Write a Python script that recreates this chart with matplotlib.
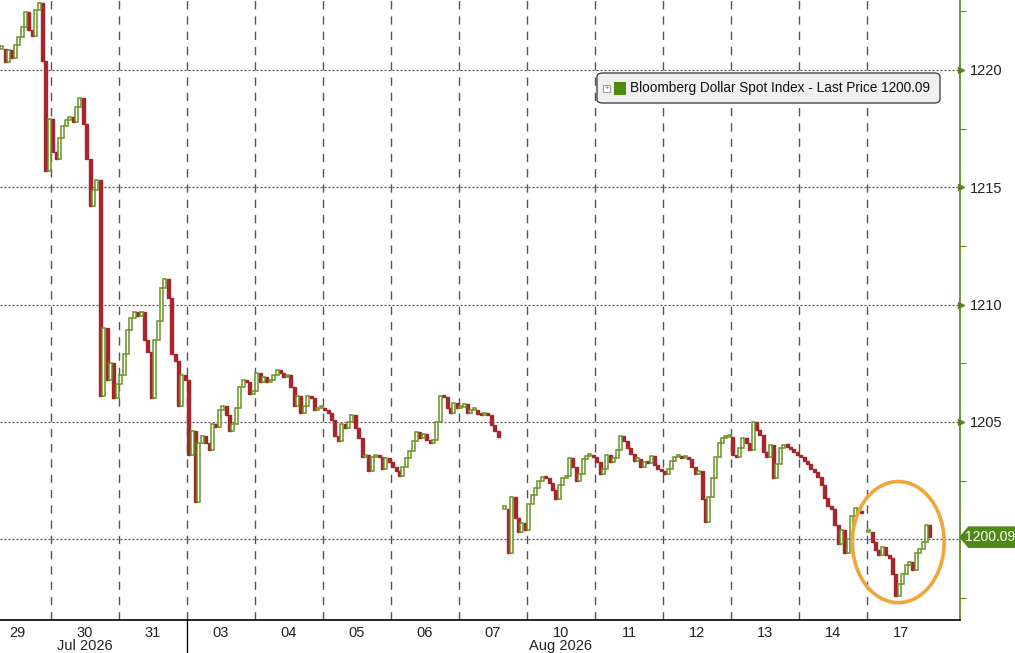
import numpy as np
import matplotlib.pyplot as plt
import matplotlib.transforms as mtransforms
from matplotlib.patches import Ellipse, FancyBboxPatch, Polygon, Rectangle

plt.rcParams['font.family'] = ['Liberation Sans', 'DejaVu Sans']

day_labels = ["29", "30", "31", "03", "04", "05", "06", "07",
              "10", "11", "12", "13", "14", "17"]
month_labels = {1: "Jul 2026", 8: "Aug 2026"}
series_name = "Bloomberg Dollar Spot Index - Last Price"
last_price = 1200.09

# closes, ~20 bars per session (nan = price gap)
jul29 = [1220.9, 1220.35, 1220.85, 1220.5, 1221.05, 1221.4, 1221.85, 1222.45,
         1221.7, 1221.45, 1222.55, 1222.85, 1220.4, 1215.7, 1217.9]
jul30 = [1216.5, 1216.2, 1217.1, 1217.6, 1217.85, 1218.0, 1217.8, 1218.4,
         1218.8, 1217.7, 1216.2, 1214.2, 1214.9, 1215.3, 1206.1, 1209.0,
         1206.8, 1207.5, 1206.0, 1206.6]
jul31 = [1207.0, 1207.9, 1208.9, 1209.45, 1209.7, 1209.5, 1209.7, 1208.5,
         1208.0, 1206.0, 1208.5, 1209.3, 1210.7, 1211.1, 1210.3, 1207.9,
         1207.6, 1205.7, 1207.0, 1206.8]
aug03 = [1203.6, 1204.6, 1201.6, 1204.1, 1204.4, 1204.1, 1203.8, 1204.9,
         1204.8, 1205.5, 1205.7, 1205.3, 1204.6, 1204.9, 1205.6, 1206.5,
         1206.8, 1206.7, 1206.2, 1206.3]
aug04 = [1207.1, 1206.7, 1206.9, 1206.7, 1206.8, 1207.0, 1207.2, 1207.1,
         1206.9, 1207.0, 1206.5, 1205.7, 1206.1, 1205.4, 1205.7, 1206.1,
         1206.0, 1205.5, 1205.6, 1205.6]
aug05 = [1205.5, 1205.4, 1205.1, 1204.4, 1204.2, 1204.9, 1204.75, 1205.0,
         1205.3, 1204.75, 1204.3, 1203.5, 1203.6, 1202.9, 1203.5, 1203.6,
         1203.5, 1203.0, 1203.45, 1203.3]
aug06 = [1203.1, 1202.9, 1202.7, 1203.1, 1203.45, 1203.75, 1204.2, 1204.55,
         1204.3, 1204.5, 1204.25, 1204.1, 1204.25, 1205.0, 1206.1, 1206.05,
         1205.6, 1205.4, 1205.8, 1205.6]
aug07 = [1205.65, 1205.75, 1205.4, 1205.5, 1205.5, 1205.35, 1205.3, 1205.4,
         1205.3, 1204.85, 1204.6, 1204.35, np.nan, 1201.3, 1199.4, 1201.8,
         1200.9, 1200.3, 1200.7, 1200.4]
aug10 = [1201.5, 1201.9, 1202.2, 1202.5, 1202.65, 1202.6, 1202.4, 1202.1,
         1201.7, 1202.3, 1202.6, 1202.7, 1203.45, 1203.1, 1202.5, 1202.8,
         1203.4, 1203.55, 1203.55, 1203.5]
aug11 = [1203.3, 1202.8, 1203.0, 1203.6, 1203.3, 1203.45, 1203.8, 1204.4,
         1204.2, 1203.9, 1203.65, 1203.35, 1203.4, 1203.1, 1203.3, 1203.25,
         1203.55, 1203.15, 1203.0, 1202.9]
aug12 = [1202.8, 1203.0, 1203.35, 1203.5, 1203.5, 1203.45, 1203.45, 1203.4,
         1203.1, 1202.8, 1202.9, 1201.7, 1200.75, 1201.8, 1202.6, 1203.5,
         1204.1, 1204.3, 1204.35, 1204.35]
aug13 = [1203.6, 1203.5, 1203.9, 1204.3, 1204.1, 1203.8, 1205.0, 1204.65,
         1204.45, 1203.7, 1203.5, 1204.0, 1202.6, 1203.2, 1203.9, 1204.0,
         1203.95, 1203.85, 1203.7, 1203.6]
aug14 = [1203.5, 1203.35, 1203.2, 1203.0, 1202.85, 1202.65, 1202.3, 1201.75,
         1201.4, 1201.3, 1200.6, 1199.8, 1200.4, 1199.4, 1200.0, 1201.0,
         1201.35, 1201.2, 1201.1, np.nan]
aug17 = [1200.3, 1199.9, 1199.55, 1199.35, 1199.65, 1199.35, 1199.2, 1198.5,
         1197.6, 1198.1, 1198.5, 1198.9, 1199.05, 1198.7, 1199.4, 1199.6,
         1199.9, 1200.6, 1200.09]
sessions = [jul29, jul30, jul31, aug03, aug04, aug05, aug06, aug07,
            aug10, aug11, aug12, aug13, aug14, aug17]

green = "#6a9224"
red = "#a5262c"
slots = 20

# bar times in trading-day units (first session is cut off on the left)
xs, closes = [], []
for i, vals in enumerate(sessions):
    offset = slots - len(vals) if i == 0 else 0
    for k, v in enumerate(vals):
        xs.append(i + (offset + k + 0.5) / slots)
        closes.append(v)
xs = np.array(xs)
closes = np.array(closes)
opens = np.r_[closes[0], closes[:-1]]
opens = np.where(np.isnan(opens), closes, opens)

fig = plt.figure(figsize=(10.15, 6.53), dpi=100)
ax = fig.add_axes([0, 33 / 653, 960 / 1015, 620 / 653])
ax.set_xlim(0.25, 14.368)
ax.set_ylim(1196.56, 1222.98)

# grid
for d in range(1, 14):
    ax.axvline(d, color="#555555", lw=1.0, dashes=(6, 5), zorder=1)
for lvl in [1200, 1205, 1210, 1215, 1220]:
    ax.axhline(lvl, color="#555555", lw=0.9, dashes=(1.6, 1.6), zorder=1)

# candles
ok = ~np.isnan(closes)
up = ok & (closes >= opens)
dn = ok & (closes < opens)
w = 0.9 / slots
bottom = np.minimum(opens, closes)
height = np.maximum(np.abs(closes - opens), 0.1)
ax.bar(xs[dn], height[dn], w, bottom[dn], color=red, edgecolor=red,
       linewidth=1.0, zorder=3)
ax.bar(xs[up], height[up], w, bottom[up], color="white", edgecolor=green,
       linewidth=1.1, zorder=4)

# highlight
ax.add_patch(Ellipse((13.46, 1199.88), 1.35, 5.16, fill=False,
                     edgecolor="#f2a53a", lw=2.6, zorder=5))

# axes styling
for s in ["top", "left"]:
    ax.spines[s].set_visible(False)
ax.spines["right"].set_color("#5d7f1e")
ax.spines["right"].set_linewidth(1.2)
ax.spines["bottom"].set_color("black")
ax.spines["bottom"].set_linewidth(1.2)

ax.set_xticks(np.arange(len(day_labels)) + 0.5)
ax.set_xticklabels(day_labels, fontsize=10.5, color="#222222")
ax.tick_params(axis="x", length=0, pad=4)

ax.yaxis.tick_right()
ax.set_yticks([1205, 1210, 1215, 1220])
ax.set_yticklabels(["1205", "1210", "1215", "1220"], fontsize=10.5,
                   color="#222222")
ax.set_yticks([1197.5, 1202.5, 1207.5, 1212.5, 1217.5, 1222.5], minor=True)
ax.tick_params(axis="y", which="major", length=0, pad=7)
ax.tick_params(axis="y", which="minor", length=4, direction="out",
               color="#5d7f1e", width=0.8)

trans = mtransforms.blended_transform_factory(ax.transAxes, ax.transData)
ax.plot([1.001] * 4, [1205, 1210, 1215, 1220], marker=">", ls="none",
        ms=5, color="#5d7f1e", transform=trans, clip_on=False, zorder=6)

# month labels and separator
xtrans = mtransforms.blended_transform_factory(ax.transData, ax.transAxes)
ax.plot([3, 3], [0, -0.06], color="black", lw=1.0, transform=xtrans,
        clip_on=False)
for d, lab in month_labels.items():
    ax.text(d + 0.5, -0.042, lab, transform=xtrans, ha="center",
            va="center", fontsize=10.5, color="#222222")

# last price tag
hh = 0.43
tag = Polygon([(1.0, last_price), (1.009, last_price + hh),
               (1.06, last_price + hh), (1.06, last_price - hh),
               (1.009, last_price - hh)], closed=True,
              facecolor="#4f8a16", edgecolor="#4f8a16",
              transform=trans, clip_on=False, zorder=7)
ax.add_patch(tag)
ax.text(1.0315, last_price, f"{last_price:.2f}", transform=trans,
        ha="center", va="center", fontsize=10, color="white", zorder=8)

# legend box
box = FancyBboxPatch((597 / 960, 517 / 620), 343 / 960, 30 / 620,
                     boxstyle="round,pad=0,rounding_size=0.006",
                     transform=ax.transAxes, facecolor="#f0f0f0",
                     edgecolor="#333333", lw=0.9, zorder=7)
ax.add_patch(box)
ax.add_patch(Rectangle((603 / 960, 528 / 620), 7 / 960, 7 / 620,
                       transform=ax.transAxes, facecolor="white",
                       edgecolor="#888888", lw=0.6, zorder=8))
ax.text(606.5 / 960, 531.5 / 620, "+", transform=ax.transAxes, ha="center",
        va="center", fontsize=5.5, color="#666666", zorder=9)
ax.add_patch(Rectangle((614 / 960, 525 / 620), 12 / 960, 13 / 620,
                       transform=ax.transAxes, facecolor="#4e8a10",
                       edgecolor="none", zorder=8))
ax.text(630 / 960, 532 / 620, f"{series_name} {last_price:.2f}",
        transform=ax.transAxes, ha="left", va="center", fontsize=9.8,
        color="#111111", zorder=9)

fig.savefig("out.png", dpi=100)
